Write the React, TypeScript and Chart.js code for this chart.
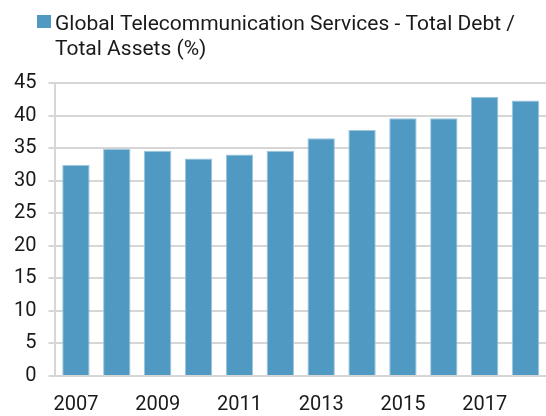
import React, { useEffect, useRef } from "react";
import { Chart, registerables } from "chart.js";

Chart.register(...registerables);

const years = ["2007", "2008", "2009", "2010", "2011", "2012", "2013", "2014", "2015", "2016", "2017", "2018"];
const debtToAssets = [32.4, 34.9, 34.6, 33.4, 34.0, 34.6, 36.5, 37.8, 39.6, 39.6, 42.9, 42.3];
const legendLines = ["Global Telecommunication Services - Total Debt /", "Total Assets (%)"];
const yTicks = [0, 5, 10, 15, 20, 25, 30, 35, 40, 45];

const FONT = "Roboto, 'Liberation Sans', sans-serif";
const BAR = "#4f99c2";

const legendPlugin = {
  id: "wrappedLegend",
  afterDraw(chart: any) {
    const ctx = chart.ctx;
    ctx.save();
    ctx.fillStyle = BAR;
    ctx.fillRect(37, 15, 14, 13);
    ctx.fillStyle = "#1a1a1a";
    ctx.font = `21px ${FONT}`;
    ctx.textBaseline = "alphabetic";
    ctx.textAlign = "left";
    legendLines.forEach((line, i) => ctx.fillText(line, 55, 29.5 + i * 25.5));
    ctx.restore();
  },
};

export default function App() {
  const ref = useRef<HTMLCanvasElement | null>(null);
  useEffect(() => {
    if (!ref.current) return;
    const chart = new Chart(ref.current, {
      type: "bar",
      data: {
        labels: years,
        datasets: [
          {
            label: legendLines.join(" "),
            data: debtToAssets,
            backgroundColor: BAR,
            borderColor: "#9cc7de",
            borderWidth: 1,
            categoryPercentage: 0.67,
            barPercentage: 1,
          },
        ],
      },
      plugins: [legendPlugin],
      options: {
        animation: false,
        responsive: false,
        maintainAspectRatio: false,
        layout: { padding: { left: 2, right: -4, top: 83, bottom: -18 } },
        plugins: {
          tooltip: { enabled: false },
          legend: { display: false },
        },
        scales: {
          x: {
            grid: { display: false, drawTicks: false },
            border: { display: false },
            ticks: {
              autoSkip: false,
              maxRotation: 0,
              color: "#1a1a1a",
              font: { family: FONT, size: 20 },
              padding: 17,
              callback: (_v: any, i: number) => (i % 2 === 0 ? years[i] : ""),
            },
          },
          y: {
            min: 0,
            max: 45,
            afterBuildTicks: (axis: any) => {
              axis.ticks = yTicks.map((v) => ({ value: v }));
            },
            grid: { color: "#d6d6d6", lineWidth: 2, tickLength: 7 },
            border: { display: true, color: "#d6d6d6", width: 2 },
            ticks: {
              color: "#1a1a1a",
              font: { family: FONT, size: 20 },
              padding: 12,
            },
          },
        },
      },
    });
    return () => chart.destroy();
  }, []);
  return (
    <div style={{ position: "fixed", left: 0, top: 0, width: 546, height: 416, background: "#fff" }}>
      <canvas ref={ref} width={546} height={416} style={{ display: "block" }} />
    </div>
  );
}
